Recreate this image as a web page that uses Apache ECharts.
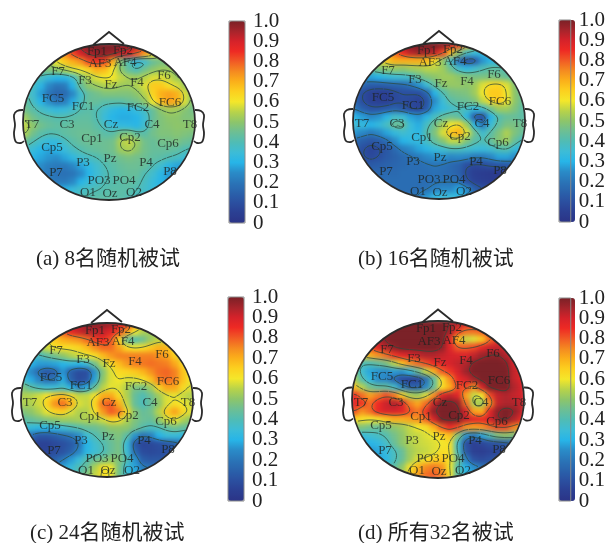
<!DOCTYPE html>
<html><head><meta charset="utf-8">
<style>
html,body{margin:0;padding:0;background:#fff}
#c{width:608px;height:543px}
canvas[data-zr-dom-id="zr_0"]{
 filter:blur(2.5px);
 clip-path:path('M23 122a86 78 0 1 0 172 0a86 78 0 1 0 -172 0Z M353 121a86 78 0 1 0 172 0a86 78 0 1 0 -172 0Z M21 400a86 77 0 1 0 172 0a86 77 0 1 0 -172 0Z M352 399.5a86 78.5 0 1 0 172 0a86 78.5 0 1 0 -172 0Z');
}
</style>
<script src="https://cdn.jsdelivr.net/npm/echarts@6/dist/echarts.min.js"></script>
</head><body><div id="c"></div>
<script>
const captions=['(a) 8名随机被试','(b) 16名随机被试','(c) 24名随机被试','(d) 所有32名被试'];
const tickLabels=['0','0.1','0.2','0.3','0.4','0.5','0.6','0.7','0.8','0.9','1.0'];
const electrodeNames=['Fp1','Fp2','AF3','AF4','F7','F3','Fz','F4','F6','FC5','FC1','FC2','FC6','T7','C3','Cz','C4','T8','Cp1','Cp2','Cp5','Cp6','P3','Pz','P4','P7','P8','PO3','PO4','O1','Oz','O2'];
const electrodeX=[-12,14,-9,16,-51,-24,2,28,55,-56,-26,29,61,-77,-42,2,43,81,-17,21,-57,59,-26,1,37,-53,61,-10,15,-21,1,25];
const electrodeY=[-70,-71,-58,-59,-50,-41,-37,-39,-46,-23,-15,-14,-19,3,3,3,3,3,17,16,26,22,41,37,41,51,50,59,59,71,72,71];
const jetStops=['#2b3487','#2b3f92','#2b4fa0','#2a62ab','#2a75b8','#2a8cc8','#27b5e8','#3dbcd6','#50bcb4','#6dbf94','#8dc56a','#b8d34a','#f4e72a','#fcd01f','#fbb01a','#f58a20','#f15a25','#ee2a24','#d5222a','#a6242b','#7a2026'];

const fieldA=[
[60,62,66,72,78,84,90,96,99,100,100,100,99,97,94,88,78,68,58,50,48,46],
[52,54,58,62,68,75,82,90,95,97,98,96,92,88,80,72,62,54,48,46,45,45],
[46,48,50,54,60,66,70,74,82,84,82,70,48,40,32,36,44,47,46,45,45,45],
[44,45,46,48,50,54,58,60,64,70,68,60,50,43,40,46,50,52,52,50,48,46],
[42,42,38,33,30,30,36,48,54,58,60,60,56,53,52,55,58,58,56,52,50,48],
[42,38,31,24,20,21,30,44,50,52,54,54,52,52,54,58,66,66,62,58,52,50],
[42,36,27,20,16,17,24,36,44,46,48,48,48,48,50,55,64,70,72,70,58,50],
[44,38,30,25,20,22,29,38,44,44,42,42,42,44,46,50,60,68,72,70,58,48],
[46,42,38,35,33,34,37,41,42,40,36,32,30,31,34,38,44,50,53,52,49,46],
[52,46,43,42,41,41,42,43,43,40,34,30,29,29,30,35,44,48,50,50,48,48],
[56,50,46,44,43,43,44,44,44,42,38,34,33,32,31,36,45,48,49,50,50,50],
[54,46,42,40,41,43,44,45,45,44,42,42,47,48,43,42,46,48,48,49,48,47],
[44,40,36,33,33,38,42,44,45,45,45,46,54,56,52,46,44,46,46,47,45,44],
[38,34,30,28,30,34,38,41,43,44,45,46,52,54,50,46,44,44,44,43,40,38],
[34,30,28,26,25,28,32,36,38,40,43,44,46,47,46,45,43,42,40,38,35,33],
[32,27,25,22,21,21,24,28,32,36,40,42,44,45,45,44,40,36,31,28,27,28],
[30,26,23,21,19,19,20,24,30,35,39,41,43,44,44,40,36,31,27,26,28,32],
[30,27,24,22,21,21,24,30,34,37,40,41,42,43,42,38,34,30,28,28,32,34],
[32,30,28,28,28,30,34,37,39,40,41,42,42,42,40,37,34,32,32,32,34,36],
[34,32,30,30,32,34,38,40,41,42,42,42,42,40,38,36,34,34,34,34,36,38]];

const fieldB=[
[58,64,70,78,84,90,96,100,100,100,100,98,92,82,68,55,46,40,38,36,36,36],
[52,56,60,64,70,78,86,93,96,96,92,82,68,50,38,34,32,30,30,30,30,30],
[44,48,52,58,66,70,70,70,70,68,62,50,36,18,10,12,26,31,33,35,35,35],
[38,40,44,48,50,51,50,52,53,55,55,52,45,36,32,36,40,43,42,40,37,36],
[26,26,28,30,33,35,36,38,44,48,50,52,52,50,48,47,47,47,46,44,40,37],
[22,17,14,14,15,16,17,20,26,35,44,50,51,51,50,52,58,63,64,58,49,43],
[16,9,6,5,5,8,10,10,10,16,30,40,46,47,48,52,60,66,66,60,50,44],
[16,9,6,5,5,8,9,8,6,11,25,35,42,44,45,48,56,63,66,60,50,44],
[20,14,11,11,13,15,12,8,7,13,28,33,36,39,38,32,36,46,52,52,48,42],
[30,27,24,26,31,37,35,28,26,31,38,43,45,43,31,12,10,30,41,44,44,42],
[35,33,30,33,38,45,44,34,29,38,46,53,60,63,52,30,20,35,43,47,47,45],
[26,24,21,24,28,33,36,34,31,41,48,58,67,70,59,45,36,42,48,54,48,44],
[18,14,12,14,18,25,30,32,33,38,44,49,56,56,48,42,40,44,49,52,44,38],
[14,10,7,9,12,17,22,25,28,31,34,36,39,39,37,35,34,36,40,41,34,30],
[14,10,8,10,13,15,17,19,21,24,26,26,24,25,24,21,21,24,28,28,25,24],
[16,14,13,14,15,16,17,18,18,19,20,19,17,15,10,8,9,11,12,13,15,16],
[18,16,16,16,17,17,18,18,18,18,19,18,17,15,8,5,4,3,3,5,8,10],
[20,18,18,18,18,18,18,18,18,18,19,19,19,18,10,6,5,4,4,7,10,12],
[20,18,18,18,18,18,18,18,18,19,22,24,24,28,24,14,10,8,8,12,14,14],
[20,18,18,18,18,18,18,19,21,26,32,34,34,32,28,20,14,12,12,14,14,16]];

const fieldC=[
[64,68,72,76,80,85,90,94,97,98,98,96,92,86,74,62,55,50,48,46,46,46],
[54,58,62,66,72,80,87,91,94,94,92,88,82,72,60,54,52,52,50,48,47,46],
[48,50,54,60,66,70,72,74,78,83,85,81,64,45,40,45,52,56,56,54,52,50],
[42,46,50,57,61,62,62,64,68,74,78,78,72,63,60,62,66,70,69,60,54,52],
[40,38,38,42,46,50,54,57,60,62,68,73,76,76,76,76,76,74,72,65,56,52],
[36,30,27,27,28,30,32,30,34,46,56,63,68,73,76,77,78,77,76,71,64,56],
[32,24,17,12,15,26,14,9,10,26,48,58,63,64,66,69,74,78,79,76,67,60],
[36,29,23,18,20,29,15,9,11,28,50,58,60,58,58,61,67,76,78,76,67,60],
[48,42,38,35,35,38,30,24,29,44,55,59,58,54,47,46,52,64,71,71,63,58],
[54,55,57,61,66,68,63,56,56,61,70,71,63,54,44,40,45,52,58,59,56,54],
[54,54,57,64,74,78,70,58,56,64,78,80,70,56,44,39,44,50,58,62,60,57],
[48,50,54,59,64,65,58,54,54,61,73,80,77,63,49,44,46,55,66,72,64,58],
[42,44,46,48,50,52,52,53,54,54,57,64,62,54,48,45,44,50,57,60,54,50],
[36,33,31,30,32,35,38,41,44,45,47,50,50,50,46,41,38,39,43,46,44,42],
[24,18,12,12,14,17,20,25,35,40,44,46,48,42,26,19,22,30,34,34,32,30],
[15,9,6,6,8,10,13,19,30,36,40,44,47,34,13,7,8,10,12,15,20,22],
[13,8,6,7,9,11,15,23,31,35,39,44,47,35,17,9,8,9,10,13,18,20],
[14,10,10,12,15,20,27,34,41,45,47,50,48,40,26,14,12,12,13,18,20,22],
[18,16,17,20,24,28,34,40,44,54,62,60,47,34,28,22,20,20,20,22,24,24],
[20,18,20,22,26,30,36,42,48,56,62,60,46,36,30,26,24,22,22,24,24,26]];

const fieldD=[
[84,86,90,94,98,100,100,100,100,100,100,100,97,94,90,88,86,86,86,86,86,86],
[82,84,88,92,98,100,100,100,100,100,100,100,96,84,78,78,80,84,86,86,86,86],
[76,80,86,93,99,100,100,100,100,100,100,100,88,68,56,58,66,78,84,88,88,88],
[68,76,82,88,94,98,100,100,100,100,100,98,88,80,80,82,87,91,92,90,86,84],
[60,64,70,74,78,84,88,90,92,94,94,92,90,89,89,92,96,98,98,94,88,84],
[50,40,40,43,47,55,67,74,78,82,86,88,90,92,94,99,100,100,100,99,90,84],
[48,36,28,26,25,27,26,33,44,56,70,80,84,90,96,100,100,100,100,100,92,86],
[54,41,32,25,24,16,9,6,7,18,42,62,74,86,90,96,100,100,100,100,92,88],
[68,55,46,43,43,37,24,15,15,24,44,62,70,82,82,74,90,100,100,100,94,90],
[86,78,72,76,81,77,65,54,52,58,74,88,92,88,72,56,60,82,92,94,92,90],
[88,84,78,85,91,94,90,76,71,78,92,100,100,98,78,54,52,74,92,94,94,92],
[82,74,78,86,90,90,88,81,77,84,98,100,100,100,90,72,70,88,98,100,98,92],
[64,62,60,61,66,70,70,72,74,79,90,100,100,100,92,88,86,90,98,100,94,86],
[48,48,46,44,47,50,52,56,60,62,70,80,86,82,74,72,74,78,82,82,76,70],
[35,34,36,38,41,46,50,55,56,58,60,64,68,50,26,21,28,40,48,50,48,46],
[26,28,30,32,37,44,50,54,56,57,58,60,62,36,10,5,7,10,11,13,18,22],
[22,24,26,28,33,38,44,52,55,56,58,62,62,38,12,5,4,6,7,10,14,20],
[22,24,26,28,31,38,44,52,58,61,64,66,62,46,22,10,8,10,12,14,18,20],
[26,28,30,32,36,42,50,61,69,75,77,74,60,40,30,25,20,18,18,20,22,24],
[28,30,32,34,40,46,54,65,72,78,80,76,62,42,32,28,24,22,22,22,24,26]];

const contourLevelsA=[40,52,60,80,93];
const contourLevelsB=[10,20,40,60,80];
const contourLevelsC=[20,40,60,80];
const contourLevelsD=[20,40,60,80,97];

const panels=[
 {field:fieldA,levels:contourLevelsA,cx:109,cy:122,rx:86,ry:78,cap:[36,249],barX:229,barY:21,barH:202},
 {field:fieldB,levels:contourLevelsB,cx:439,cy:121,rx:86,ry:78,cap:[358,249],barX:559,barY:20,barH:202},
 {field:fieldC,levels:contourLevelsC,cx:107,cy:400,rx:86,ry:77,cap:[30,523],barX:228,barY:297,barH:204},
 {field:fieldD,levels:contourLevelsD,cx:438,cy:399.5,rx:86,ry:78.5,cap:[358,523],barX:559,barY:298,barH:203}
];
const CELL=8,COLS=22,ROWS=20,SUB=4;

// contours are traced on the same softened surface the blurred cells show
function softened(field){
 const W=(COLS-1)*SUB+1,H=(ROWS-1)*SUB+1;
 let g=[];
 for(let y=0;y<H;y++){const r=[];const j=Math.min(ROWS-2,Math.floor(y/SUB)),fy=y/SUB-j;
  for(let x=0;x<W;x++){const i=Math.min(COLS-2,Math.floor(x/SUB)),fx=x/SUB-i;
   r.push((field[j][i]*(1-fx)+field[j][i+1]*fx)*(1-fy)+(field[j+1][i]*(1-fx)+field[j+1][i+1]*fx)*fy);}
  g.push(r);}
 const K=[1,4,6,4,1];
 const pass=(get,n,m,set)=>{for(let a=0;a<n;a++){const out=[];for(let b=0;b<m;b++){let s=0,w=0;for(let t=-2;t<=2;t++){const c=b+t;if(c<0||c>=m)continue;s+=K[t+2]*get(a,c);w+=K[t+2];}out.push(s/w);}out.forEach((v,b)=>set(a,b,v));}};
 for(let it=0;it<2;it++){
  pass((a,c)=>g[a][c],H,W,(a,b,v)=>{g[a][b]=v;});
  pass((a,c)=>g[c][a],W,H,(a,b,v)=>{g[b][a]=v;});
 }
 return g;
}
function contourSegments(field,levels,rx,ry){
 const pts=[],g=softened(field),S=CELL/SUB;
 const X=i=>-84+S*i, Y=j=>-76+S*j;
 const inside=p=>(p[0]*p[0])/(rx*rx)+(p[1]*p[1])/(ry*ry)<0.985;
 levels.forEach(L=>{
  for(let j=0;j<g.length-1;j++)for(let i=0;i<g[0].length-1;i++){
   const a=g[j][i],b=g[j][i+1],c=g[j+1][i+1],d=g[j+1][i];
   const e=[];
   if((a<L)!==(b<L))e.push([X(i)+S*(L-a)/(b-a),Y(j)]);
   if((b<L)!==(c<L))e.push([X(i+1),Y(j)+S*(L-b)/(c-b)]);
   if((d<L)!==(c<L))e.push([X(i)+S*(L-d)/(c-d),Y(j+1)]);
   if((a<L)!==(d<L))e.push([X(i),Y(j)+S*(L-a)/(d-a)]);
   for(let k=0;k+1<e.length;k+=2){
    if(inside(e[k])&&inside(e[k+1])){pts.push(e[k],e[k+1],[null,null]);}
   }
  }
 });
 return pts;
}

const Z=1;
const option={animation:false,backgroundColor:'transparent',
 title:[],grid:[],xAxis:[],yAxis:[],series:[],visualMap:[],graphic:{elements:[]}};
const serif='"Liberation Serif","Noto Sans CJK SC",serif';
panels.forEach((p,k)=>{
 const g0=option.grid.length;
 option.grid.push({left:p.cx-88,top:p.cy-80,width:176,height:160,show:false,zlevel:0});
 option.xAxis.push({type:'category',gridIndex:g0,show:false,data:Array.from({length:COLS},(_,i)=>i)});
 option.yAxis.push({type:'category',gridIndex:g0,show:false,inverse:true,data:Array.from({length:ROWS},(_,i)=>i)});
 const cells=[];
 p.field.forEach((row,j)=>row.forEach((v,i)=>cells.push([i,j,v/100])));
 const si=option.series.length;
 option.series.push({type:'heatmap',xAxisIndex:g0,yAxisIndex:g0,data:cells,zlevel:0,silent:true,progressive:0,itemStyle:{borderWidth:0},emphasis:{disabled:true}});
 option.visualMap.push({type:'continuous',seriesIndex:si,dimension:2,min:0,max:1,show:true,calculable:false,hoverLink:false,realtime:false,
   left:p.barX,top:p.barY,itemWidth:16,itemHeight:p.barH,padding:0,text:null,showLabel:false,zlevel:Z,inRange:{color:jetStops},textStyle:{fontSize:0}});
 const g1=option.grid.length;
 option.grid.push({left:p.cx-88,top:p.cy-80,width:176,height:160,show:false,zlevel:Z});
 option.xAxis.push({type:'value',gridIndex:g1,show:false,min:-88,max:88});
 option.yAxis.push({type:'value',gridIndex:g1,show:false,min:-80,max:80,inverse:true});
 option.series.push({type:'line',xAxisIndex:g1,yAxisIndex:g1,zlevel:Z,silent:true,showSymbol:false,connectNulls:false,
   data:contourSegments(p.field,p.levels,p.rx,p.ry),lineStyle:{color:'#2c4a3c',width:1,opacity:0.75}});
 option.series.push({type:'scatter',xAxisIndex:g1,yAxisIndex:g1,zlevel:Z,z:5,silent:true,symbolSize:1,itemStyle:{color:'rgba(0,0,0,0.01)'},
   data:electrodeNames.map((n,i)=>({name:n,value:[electrodeX[i],electrodeY[i]*(p.ry/78)]})),
   labelLayout:{hideOverlap:false},
   label:{show:true,position:'inside',formatter:'{b}',fontFamily:serif,fontSize:13,color:'#1d2320'}});
 const g2=option.grid.length;
 option.grid.push({left:p.barX,top:p.barY,width:16,height:p.barH,show:true,backgroundColor:'transparent',borderColor:'#8a8a8a',borderWidth:1,zlevel:Z,z:10});
 option.xAxis.push({type:'value',gridIndex:g2,show:false,min:0,max:1});
 option.yAxis.push({type:'category',gridIndex:g2,position:'right',boundaryGap:false,data:tickLabels,zlevel:Z,
   axisLine:{show:false},axisTick:{show:false},splitLine:{show:false},
   axisLabel:{show:true,interval:0,margin:8,fontFamily:serif,fontSize:21,color:'#222'}});
 option.title.push({text:captions[k],left:p.cap[0],top:p.cap[1],padding:0,zlevel:Z,
   textStyle:{fontFamily:serif,fontSize:21,fontWeight:'normal',color:'#222'}});
 const st={fill:'transparent',stroke:'#2b2b2b',lineWidth:1.8};
 const pts=a=>a.map(q=>[p.cx+q[0],p.cy+q[1]]);
 option.graphic.elements.push(
  {type:'ellipse',zlevel:Z,z:20,silent:true,shape:{cx:p.cx,cy:p.cy,rx:p.rx,ry:p.ry},style:st},
  {type:'polyline',zlevel:Z,z:20,silent:true,shape:{points:pts([[-16,-77],[0,-90],[15,-78]])},style:st},
  {type:'polyline',zlevel:Z,z:20,silent:true,shape:{points:pts([[-86,-12],[-92,-11],[-95,-7],[-94,3],[-95,12],[-93,20],[-88,21],[-85,19]]),smooth:0.4},style:st},
  {type:'polyline',zlevel:Z,z:20,silent:true,shape:{points:pts([[86,-12],[92,-11],[95,-7],[94,3],[95,12],[93,20],[88,21],[85,19]]),smooth:0.4},style:st}
 );
});
const chart=echarts.init(document.getElementById('c'),null,{renderer:'canvas'});
chart.setOption(option);
</script></body></html>
